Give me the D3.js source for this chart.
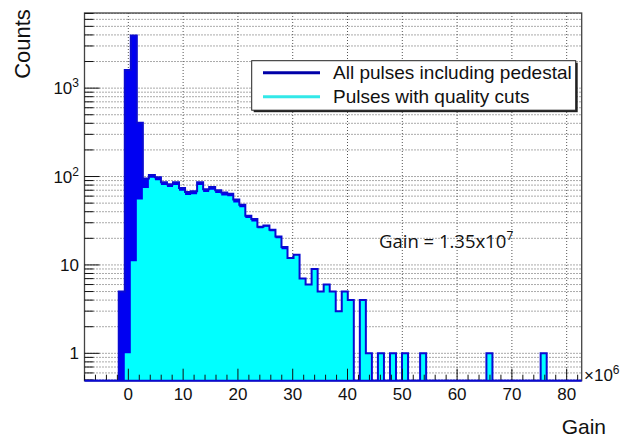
<!DOCTYPE html>
<html><head><meta charset="utf-8">
<script src="https://cdn.jsdelivr.net/npm/d3@7"></script>
<style>
body{margin:0;background:#fff;}
svg{display:block;font-family:"Liberation Sans",Arial,sans-serif;}
</style>
</head><body>
<svg id="c" width="629" height="440"></svg>
<script>
// ---- data (gain in units of 10^6) ----
const binStart = -1.75;   // lower edge of first bin
const binWidth = 1.1;
const allPulses = [5,1600,3950,406,95,104,98,86,82,86,74,67,68,86,72,76,70,66,64,55,
  48,36,33,27,28,25,21,16,12,13,7,6,9,5,6,5,3,5,4,0,
  4,1,0,1,0,1,0,1,0,0,1,0,0,0,0,0,0,0,0,0,
  0,1,0,0,0,0,0,0,0,0,1,0,0,0,0,0,0];
const qualityCuts = [0,1,11,55,74,97,91,80,76,80,69,62,63,80,67,71,65,61,60,51,
  45,34,31,26,27,24,20,15,12,13,7,6,9,5,6,5,3,5,4,0,
  4,1,0,1,0,1,0,1,0,0,1,0,0,0,0,0,0,0,0,0,
  0,1,0,0,0,0,0,0,0,0,1,0,0,0,0,0,0];
const xMajorTicks = [0,10,20,30,40,50,60,70,80];
const yMajorTicks = [1,10,100,1000];
const yTickLabels = [["1",null],["10",null],["10","2"],["10","3"]];
const legendLabels = ["All pulses including pedestal","Pulses with quality cuts"];

// ---- layout ----
const F = {l:84.5, r:581.7, t:13, b:380.7};
const svg = d3.select("#c");
const x = d3.scaleLinear().domain([-8, 82.74]).range([F.l, F.r]);
const y = d3.scaleLog().domain([0.49, 7080]).range([F.b, F.t]);

svg.append("defs").append("clipPath").attr("id","clip")
  .append("rect").attr("x",F.l).attr("y",F.t).attr("width",F.r-F.l).attr("height",F.b-F.t);

// grid
const gridCol = "#555";
const g = svg.append("g");
xMajorTicks.forEach(t=>{
  g.append("line").attr("x1",x(t)).attr("x2",x(t)).attr("y1",F.t).attr("y2",F.b)
    .attr("stroke",gridCol).attr("stroke-width",1).attr("stroke-dasharray","1,2");
});
const yAll = [];
for (let d=-1; d<=3; d++) for (let m=1; m<=9; m++){
  const v = m*Math.pow(10,d);
  if (v>=y.domain()[0] && v<=y.domain()[1]) yAll.push(v);
}
yAll.forEach(v=>{
  g.append("line").attr("x1",F.l).attr("x2",F.r).attr("y1",y(v)).attr("y2",y(v))
    .attr("stroke",gridCol).attr("stroke-width",1).attr("stroke-dasharray","1,2");
});

// histograms
function pts(arr){
  const p=[[x.domain()[0],0]];
  arr.forEach((v,i)=>p.push([binStart+i*binWidth, v]));
  p.push([binStart+arr.length*binWidth, 0]);
  return p;
}
const yv = v => v>0 ? y(v) : F.b;
const area = d3.area().curve(d3.curveStepAfter).x(d=>x(d[0])).y0(F.b).y1(d=>yv(d[1]));
const line = d3.line().curve(d3.curveStepAfter).x(d=>x(d[0])).y(d=>yv(d[1]));
const h = svg.append("g").attr("clip-path","url(#clip)");
h.append("path").attr("d",area(pts(allPulses))).attr("fill","#0000f2");
h.append("path").attr("d",area(pts(qualityCuts))).attr("fill","#00ffff");
h.append("path").attr("d",line(pts(allPulses))).attr("fill","none")
  .attr("stroke","#0a0ad2").attr("stroke-width",2);

// frame
svg.append("rect").attr("x",F.l).attr("y",F.t).attr("width",F.r-F.l).attr("height",F.b-F.t)
  .attr("fill","none").attr("stroke","#444").attr("stroke-width",1.3);

// x ticks
const tk = svg.append("g").attr("stroke","#111").attr("stroke-width",1);
for (let t=-8; t<=82; t+=2){
  const major = t%10===0;
  tk.append("line").attr("x1",x(t)).attr("x2",x(t)).attr("y1",F.b).attr("y2",F.b-(major?12:6));
}
svg.append("line").attr("x1",F.l).attr("x2",F.r).attr("y1",F.b).attr("y2",F.b)
  .attr("stroke","#0a0ad2").attr("stroke-width",2);
xMajorTicks.forEach(t=>{
  svg.append("text").attr("x",x(t)).attr("y",400).attr("text-anchor","middle")
    .attr("font-size",17).attr("fill","#111").text(t);
});
// y ticks
yAll.forEach(v=>{
  const major = yMajorTicks.includes(v);
  tk.append("line").attr("x1",F.l).attr("x2",F.l+(major?15:9)).attr("y1",y(v)).attr("y2",y(v));
});
yMajorTicks.forEach((v,i)=>{
  const t = svg.append("text").attr("x",79).attr("y",y(v)+6).attr("text-anchor","end")
    .attr("font-size",17).attr("fill","#111");
  t.append("tspan").text(yTickLabels[i][0]);
  if (yTickLabels[i][1]) t.append("tspan").attr("dy",-7).attr("font-size",12).text(yTickLabels[i][1]);
});
// x10^6
const e = svg.append("text").attr("x",584).attr("y",381).attr("font-size",17).attr("fill","#111");
e.append("tspan").text("\u00d710");
e.append("tspan").attr("dy",-7).attr("font-size",12).text("6");

// axis titles
svg.append("text").attr("x",606).attr("y",434).attr("text-anchor","end")
  .attr("font-size",21).attr("fill","#111").text("Gain");
svg.append("text").attr("transform","translate(30,44) rotate(-90)").attr("text-anchor","middle")
  .attr("font-size",22).attr("fill","#111").text("Counts");

// legend
const L = {x:251.7, y:60.7, w:324, h:49.5};
svg.append("rect").attr("x",L.x+2).attr("y",L.y+2).attr("width",L.w).attr("height",L.h).attr("fill","#222");
svg.append("rect").attr("x",L.x).attr("y",L.y).attr("width",L.w).attr("height",L.h)
  .attr("fill","#fff").attr("stroke","#222").attr("stroke-width",1);
const legCols = ["#0000a8","#33e8e8"];
legendLabels.forEach((s,i)=>{
  const yy = 72.7 + i*24;
  svg.append("line").attr("x1",263).attr("x2",320).attr("y1",yy).attr("y2",yy)
    .attr("stroke",legCols[i]).attr("stroke-width",3);
  svg.append("text").attr("x",333).attr("y",yy+6).attr("font-size",19).attr("fill","#111").text(s);
});

// annotation
const a = svg.append("text").attr("x",379).attr("y",247.5).attr("font-family","'Open Sans',sans-serif")
  .attr("font-size",18.5).attr("fill","#111");
a.append("tspan").text("Gain = 1.35x10");
a.append("tspan").attr("dy",-8).attr("font-size",12).text("7");
</script>
</body></html>
